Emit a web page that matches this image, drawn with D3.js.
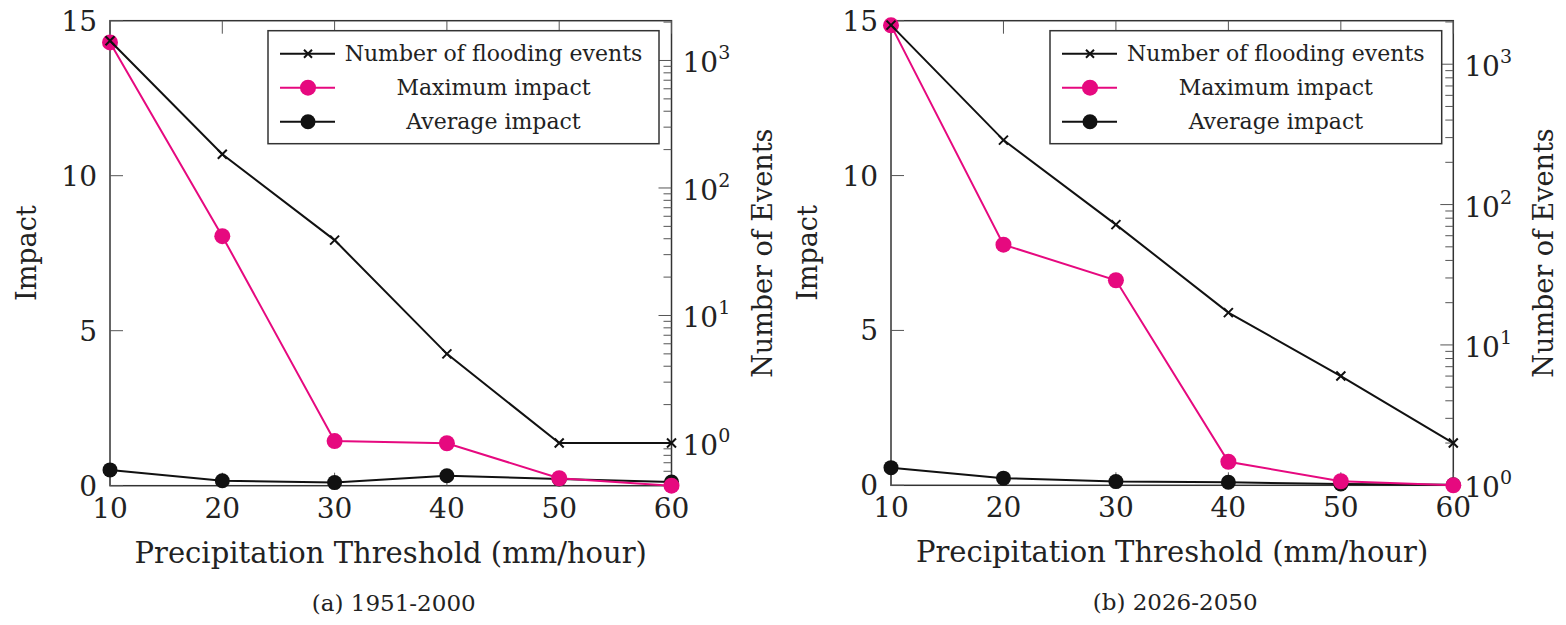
<!DOCTYPE html>
<html>
<head>
<meta charset="utf-8">
<script src="https://cdn.jsdelivr.net/npm/d3@7"></script>
<style>
  body { margin: 0; background: #fff; }
  text { font-family: "DejaVu Serif", "Liberation Serif", serif; fill: #222; }
</style>
</head>
<body>
<svg id="chart" width="1566" height="625"></svg>
<script>
// thresholds on the x-axis (mm/hour)
const thresholds = [10, 20, 30, 40, 50, 60];

// (a) 1951-2000
const eventsA = [1430, 184, 39, 5, 1, 1];
const maxImpactA = [14.3, 8.05, 1.44, 1.37, 0.24, 0];
const avgImpactA = [0.51, 0.16, 0.1, 0.32, 0.22, 0.12];

// (b) 2026-2050
const eventsB = [1900, 288, 72, 17, 6, 2];
const maxImpactB = [14.85, 7.77, 6.62, 0.76, 0.13, 0];
const avgImpactB = [0.57, 0.23, 0.12, 0.1, 0.04, 0.02];

const impactTicks = [0, 5, 10, 15];
const legendLabels = ["Number of flooding events", "Maximum impact", "Average impact"];
const captions = ["(a) 1951-2000", "(b) 2026-2050"];

const pink = "#e6097f";
const svg = d3.select("#chart");

function drawPanel(opt) {
    const g = svg.append("g");
    const x = d3.scaleLinear().domain([10, 60]).range([opt.x0, opt.x1]);
    const y = d3.scaleLinear().domain([0, 15]).range([opt.y1, opt.y0]);
    const yLog = d3.scaleLog().domain(opt.logDomain).range([opt.y1, opt.y0]);

    // frame
    g.append("rect")
        .attr("x", opt.x0).attr("y", opt.y0)
        .attr("width", opt.x1 - opt.x0).attr("height", opt.y1 - opt.y0)
        .attr("fill", "none").attr("stroke", "#333").attr("stroke-width", 1.5);

    // x ticks, bottom and top (inward)
    g.selectAll(".xt").data(thresholds).enter().append("path")
        .attr("d", d => `M${x(d)},${opt.y1}v-13M${x(d)},${opt.y0}v13`)
        .attr("stroke", "#555").attr("stroke-width", 1);
    g.selectAll(".xl").data(thresholds).enter().append("text")
        .attr("x", d => x(d)).attr("y", opt.y1 + 32)
        .attr("text-anchor", "middle").attr("font-size", 28)
        .text(d => d);

    // left linear ticks
    g.selectAll(".yt").data(impactTicks).enter().append("path")
        .attr("d", d => `M${opt.x0},${y(d)}h13`)
        .attr("stroke", "#555").attr("stroke-width", 1);
    g.selectAll(".yl").data(impactTicks).enter().append("text")
        .attr("x", opt.x0 - 13).attr("y", d => y(d) + 10)
        .attr("text-anchor", "end").attr("font-size", 28)
        .text(d => d);

    // right log ticks
    const [lo, hi] = opt.logDomain;
    const majors = [], minors = [];
    for (let e = -1; e <= 4; e++) {
        for (let m = 1; m <= 9; m++) {
            const v = m * Math.pow(10, e);
            if (v < lo || v > hi) continue;
            (m === 1 ? majors : minors).push(v);
        }
    }
    g.selectAll(".lmin").data(minors).enter().append("path")
        .attr("d", d => `M${opt.x1},${yLog(d)}h-8`)
        .attr("stroke", "#555").attr("stroke-width", 1);
    g.selectAll(".lmaj").data(majors).enter().append("path")
        .attr("d", d => `M${opt.x1},${yLog(d)}h-13`)
        .attr("stroke", "#555").attr("stroke-width", 1);
    const ll = g.selectAll(".ll").data(majors).enter().append("text")
        .attr("x", opt.x1 + 11).attr("y", d => yLog(d) + 12)
        .attr("font-size", 28);
    ll.append("tspan").text("10");
    ll.append("tspan").attr("dy", -13).attr("font-size", 19)
        .text(d => Math.round(Math.log10(d)));

    // axis labels
    g.append("text")
        .attr("transform", `translate(${opt.x0 - 74},${(opt.y0 + opt.y1) / 2}) rotate(-90)`)
        .attr("text-anchor", "middle").attr("font-size", 27)
        .text("Impact");
    g.append("text")
        .attr("transform", `translate(${opt.x1 + 100},${(opt.y0 + opt.y1) / 2}) rotate(-90)`)
        .attr("text-anchor", "middle").attr("font-size", 27)
        .text("Number of Events");
    g.append("text")
        .attr("x", (opt.x0 + opt.x1) / 2).attr("y", opt.y1 + 77)
        .attr("text-anchor", "middle").attr("font-size", 29)
        .text("Precipitation Threshold (mm/hour)");
    g.append("text")
        .attr("x", (opt.x0 + opt.x1) / 2 + 3).attr("y", opt.y1 + 125)
        .attr("text-anchor", "middle").attr("font-size", 23)
        .text(opt.caption);

    // series
    const lineImpact = d3.line().x((d, i) => x(thresholds[i])).y(d => y(d));
    const lineEvents = d3.line().x((d, i) => x(thresholds[i])).y(d => yLog(d));

    g.append("path").attr("d", lineImpact(opt.avg))
        .attr("fill", "none").attr("stroke", "#111").attr("stroke-width", 2);
    g.selectAll(".avg").data(opt.avg).enter().append("circle")
        .attr("cx", (d, i) => x(thresholds[i])).attr("cy", d => y(d))
        .attr("r", 7.5).attr("fill", "#111");

    g.append("path").attr("d", lineImpact(opt.max))
        .attr("fill", "none").attr("stroke", pink).attr("stroke-width", 2);
    g.selectAll(".max").data(opt.max).enter().append("circle")
        .attr("cx", (d, i) => x(thresholds[i])).attr("cy", d => y(d))
        .attr("r", 8).attr("fill", pink);

    g.append("path").attr("d", lineEvents(opt.events))
        .attr("fill", "none").attr("stroke", "#111").attr("stroke-width", 2);
    g.selectAll(".ev").data(opt.events).enter().append("path")
        .attr("d", (d, i) => {
            const cx = x(thresholds[i]), cy = yLog(d), s = 4.5;
            return `M${cx - s},${cy - s}L${cx + s},${cy + s}M${cx - s},${cy + s}L${cx + s},${cy - s}`;
        })
        .attr("stroke", "#111").attr("stroke-width", 2);

    // legend
    const lg = g.append("g");
    lg.append("rect")
        .attr("x", opt.lx0).attr("y", opt.y0 + 10)
        .attr("width", opt.lx1 - opt.lx0).attr("height", 113)
        .attr("fill", "#fff").attr("stroke", "#333").attr("stroke-width", 1.5);
    const rows = [
        { color: "#111", marker: "x" },
        { color: pink, marker: "o", r: 8 },
        { color: "#111", marker: "o", r: 7.5 }
    ];
    rows.forEach((row, i) => {
        const cy = opt.y0 + 33 + i * 34;
        const mx = opt.lx0 + 40;
        lg.append("path").attr("d", `M${opt.lx0 + 12},${cy}h55`)
            .attr("stroke", row.color).attr("stroke-width", 2);
        if (row.marker === "x") {
            const s = 4;
            lg.append("path")
                .attr("d", `M${mx - s},${cy - s}L${mx + s},${cy + s}M${mx - s},${cy + s}L${mx + s},${cy - s}`)
                .attr("stroke", row.color).attr("stroke-width", 2);
        } else {
            lg.append("circle").attr("cx", mx).attr("cy", cy).attr("r", row.r).attr("fill", row.color);
        }
        lg.append("text")
            .attr("x", (opt.lx0 + opt.lx1) / 2 + 30).attr("y", cy + 7)
            .attr("text-anchor", "middle").attr("font-size", 22)
            .text(legendLabels[i]);
    });
}

drawPanel({
    x0: 110, x1: 671.5, y0: 20.7, y1: 485.7,
    logDomain: [Math.pow(10, -0.335), Math.pow(10, 3.312)],
    avg: avgImpactA, max: maxImpactA, events: eventsA,
    lx0: 268, lx1: 659, caption: captions[0]
});
drawPanel({
    x0: 891, x1: 1453.3, y0: 20.7, y1: 485.3,
    logDomain: [1, Math.pow(10, 3.31)],
    avg: avgImpactB, max: maxImpactB, events: eventsB,
    lx0: 1050, lx1: 1441.7, caption: captions[1]
});
</script>
</body>
</html>
